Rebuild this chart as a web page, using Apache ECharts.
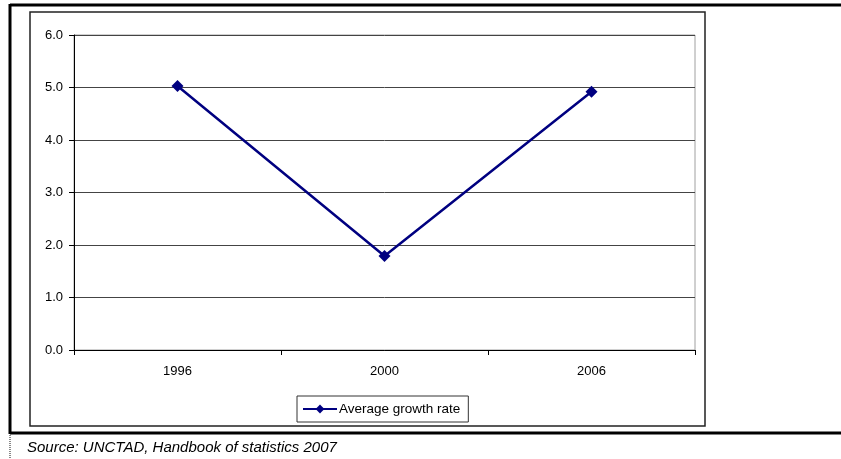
<!DOCTYPE html>
<html>
<head>
<meta charset="utf-8">
<script src="https://cdn.jsdelivr.net/npm/echarts@6/dist/echarts.min.js"></script>
<style>
  html, body { margin: 0; padding: 0; background: #fff; }
  #chart { width: 841px; height: 459px; }
</style>
</head>
<body>
<div id="chart"></div>
<script>
// data
const years = ['1996', '2000', '2006']
const growthRate = [5.03, 1.79, 4.92]
const seriesName = 'Average growth rate'
const sourceNote = 'Source: UNCTAD, Handbook of statistics 2007'

const font = 'Liberation Sans, Arial, sans-serif'
const myChart = echarts.init(document.getElementById('chart'))

const option = {
  backgroundColor: '#fff',
  animation: false,
  textStyle: { fontFamily: font },
  grid: {
    left: 74,
    right: 146,
    top: 35,
    bottom: 109,
    show: true,
    borderColor: '#a0a0a0',
    borderWidth: 1
  },
  legend: {
    left: 297,
    top: 396,
    padding: [6, 8, 6, 5],
    borderColor: '#333',
    borderWidth: 1,
    borderRadius: 0,
    itemWidth: 34,
    itemHeight: 11,
    itemGap: 0,
    textStyle: { fontFamily: font, fontSize: 13.5, color: '#000', padding: [0, 0, 0, -3] },
    data: [seriesName]
  },
  xAxis: {
    type: 'category',
    data: years,
    boundaryGap: true,
    axisLine: { lineStyle: { color: '#000', width: 1 } },
    axisTick: { show: true, length: 5, inside: false, lineStyle: { color: '#000' } },
    axisLabel: { color: '#000', fontSize: 13, margin: 15, fontFamily: font },
    splitLine: { show: false }
  },
  yAxis: {
    type: 'value',
    min: 0,
    max: 6,
    interval: 1,
    axisLine: { show: true, lineStyle: { color: '#000', width: 1 } },
    axisTick: { show: true, length: 5, lineStyle: { color: '#000' } },
    axisLabel: {
      color: '#000',
      fontSize: 13,
      margin: 11,
      fontFamily: font,
      formatter: v => v.toFixed(1)
    },
    splitLine: { show: true, lineStyle: { color: '#444', width: 1 } }
  },
  series: [
    {
      name: seriesName,
      type: 'line',
      data: growthRate,
      symbol: 'diamond',
      symbolSize: 12,
      itemStyle: { color: '#000080' },
      lineStyle: { color: '#000080', width: 2.5 }
    }
  ],
  graphic: [
    // page rules
    { type: 'line', shape: { x1: 10, y1: 5, x2: 841, y2: 5 }, style: { stroke: '#000', lineWidth: 3 } },
    { type: 'line', shape: { x1: 10, y1: 4, x2: 10, y2: 434 }, style: { stroke: '#000', lineWidth: 3 } },
    { type: 'line', shape: { x1: 10, y1: 433, x2: 841, y2: 433 }, style: { stroke: '#000', lineWidth: 3 } },
    { type: 'line', shape: { x1: 10, y1: 435, x2: 10, y2: 459 }, style: { stroke: '#888', lineWidth: 2, lineDash: [1, 1] } },
    // chart box
    { type: 'rect', shape: { x: 30, y: 12, width: 675, height: 414 }, style: { fill: 'none', stroke: '#222', lineWidth: 1.5 }, z: -1 },
    // source note
    {
      type: 'text',
      left: 27,
      top: 440,
      style: { text: sourceNote, fill: '#000', font: 'italic 15px Liberation Sans, Arial, sans-serif' }
    }
  ]
}

myChart.setOption(option)
</script>
</body>
</html>
